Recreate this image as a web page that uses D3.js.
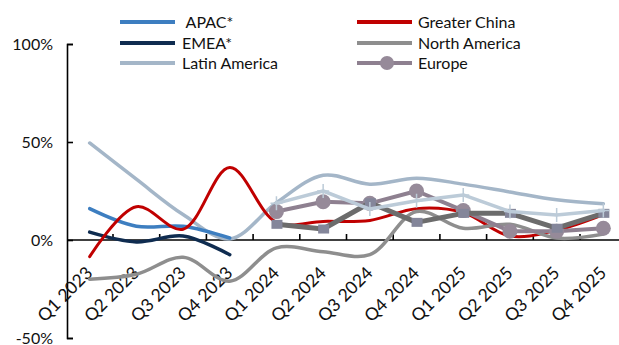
<!DOCTYPE html>
<html>
<head>
<meta charset="utf-8">
<script src="https://cdn.jsdelivr.net/npm/d3@7"></script>
<style>
  html, body { margin: 0; padding: 0; background: #fff; }
  svg { display: block; }
  text { font-family: Lato, "Open Sans", sans-serif; fill: #111; }
</style>
</head>
<body>
<svg id="chart" width="619" height="345"></svg>
<script>
// ---- data ----
const categories = ["Q1 2023","Q2 2023","Q3 2023","Q4 2023","Q1 2024","Q2 2024",
                    "Q3 2024","Q4 2024","Q1 2025","Q2 2025","Q3 2025","Q4 2025"];
const apac          = [16, 7, 7, 1, null, null, null, null, null, null, null, null];
const emea          = [4, -1, 2, -7.5, null, null, null, null, null, null, null, null];
const latinAmerica  = [49.5, 31, 13, 0.5, 19, 33, 28.5, 31.5, 28.5, 24.5, 20.5, 18.5];
const greaterChina  = [-8.5, 17, 5.5, 37, 9, 9.5, 10, 16, 14, 2, 5, 13];
const northAmerica  = [-20, -17.5, -8.8, -21, -4, -6, -7.5, 14.5, 6, 8, 1, 3];
const europe        = [null, null, null, null, 14.5, 19.5, 18.7, 25, 15, 4.5, 4.5, 6];
const squareSeries  = [null, null, null, null, 8, 5.6, 19, 9, 13.6, 13.6, 6, 13.6];
const plusSeries    = [null, null, null, null, 18.7, 25, 15.8, 20, 23, 14.5, 12.8, 15];
const yTicks = [-50, 0, 50, 100];
const legendItems = [
  { name: " APAC*", key: "apac" },
  { name: "EMEA*", key: "emea" },
  { name: "Latin America", key: "latam" },
  { name: "Greater China", key: "china" },
  { name: "North America", key: "na" },
  { name: "Europe", key: "europe" }
];

// ---- styles ----
const styles = {
  apac:   { color: "#3d7ec0", width: 3.5, smooth: true },
  emea:   { color: "#0f2c50", width: 3.5, smooth: true },
  latam:  { color: "#a4b6c8", width: 3.5, smooth: true },
  china:  { color: "#c00000", width: 3, smooth: true },
  na:     { color: "#8e8e8e", width: 3.5, smooth: true },
  europe: { color: "#8e8090", width: 4, smooth: false, marker: "circle", mcolor: "#968a99" },
  square: { color: "#6c6c6c", width: 5, smooth: false, marker: "square", mcolor: "#84869a" },
  plus:   { color: "#bccbd8", width: 3.5, smooth: false, marker: "plus", mcolor: "#bccbd8" }
};

const svg = d3.select("#chart");

const x = d3.scaleBand().domain(categories).range([66.3, 66.3 + 12 * 46.7]);
const y = d3.scaleLinear().domain([-50, 100]).range([338, 44]);
const cx = d => x(d) + x.bandwidth() / 2;

// ---- axes ----
const yAxis = d3.axisLeft(y).tickValues(yTicks).tickFormat(d => d + "%")
  .tickSize(-6).tickSizeOuter(-6).tickPadding(14);
const gy = svg.append("g").attr("transform", "translate(67,0)").call(yAxis);
gy.selectAll("path, line").attr("stroke", "#000").attr("stroke-width", 1.6);
gy.selectAll("text").attr("font-size", 16).attr("fill", "#111")
  .style("font-family", "Lato, sans-serif");

// zero line with boundary ticks
const gx = svg.append("g").attr("transform", `translate(0,${y(0)})`);
gx.append("line").attr("x1", 67).attr("x2", 619)
  .attr("stroke", "#000").attr("stroke-width", 1.6);
gx.selectAll("line.tick").data(categories.slice(1)).enter().append("line")
  .attr("class", "tick")
  .attr("x1", d => x(d)).attr("x2", d => x(d))
  .attr("y1", 0).attr("y2", -6)
  .attr("stroke", "#000").attr("stroke-width", 1.6);

// category labels
svg.append("g").selectAll("text").data(categories).enter().append("text")
  .attr("transform", d => `translate(${cx(d) + 4},274) rotate(-45)`)
  .attr("text-anchor", "end")
  .attr("font-size", 17.5)
  .text(d => d);

// ---- series ----
function drawSeries(values, key) {
  const s = styles[key];
  const pts = categories.map((c, i) => ({ c, v: values[i] }));
  const line = d3.line()
    .defined(p => p.v !== null)
    .x(p => cx(p.c)).y(p => y(p.v))
    .curve(s.smooth ? d3.curveCatmullRom.alpha(0.5) : d3.curveLinear);
  const g = svg.append("g");
  g.append("path").attr("d", line(pts)).attr("fill", "none")
    .attr("stroke", s.color).attr("stroke-width", s.width)
    .attr("stroke-linejoin", "round").attr("stroke-linecap", "round");
  const mp = pts.filter(p => p.v !== null);
  if (s.marker === "circle") {
    g.selectAll("circle").data(mp).enter().append("circle")
      .attr("cx", p => cx(p.c)).attr("cy", p => y(p.v)).attr("r", 7.5)
      .attr("fill", s.mcolor);
  } else if (s.marker === "square") {
    g.selectAll("rect").data(mp).enter().append("rect")
      .attr("x", p => cx(p.c) - 5).attr("y", p => y(p.v) - 4.5)
      .attr("width", 11).attr("height", 9).attr("fill", s.mcolor);
  } else if (s.marker === "plus") {
    g.selectAll("path.m").data(mp).enter().append("path").attr("class", "m")
      .attr("d", p => `M${cx(p.c) - 6},${y(p.v)}H${cx(p.c) + 6}M${cx(p.c)},${y(p.v) - 7}V${y(p.v) + 7}`)
      .attr("stroke", s.mcolor).attr("stroke-width", 1.5);
  }
}

drawSeries(latinAmerica, "latam");
drawSeries(apac, "apac");
drawSeries(emea, "emea");
drawSeries(greaterChina, "china");
drawSeries(northAmerica, "na");
drawSeries(europe, "europe");
drawSeries(squareSeries, "square");
drawSeries(plusSeries, "plus");

// ---- legend ----
const legendPos = [
  { lx: 120, tx: 182, ty: 22 }, { lx: 120, tx: 182, ty: 43 }, { lx: 120, tx: 182, ty: 63 },
  { lx: 357, tx: 418, ty: 22 }, { lx: 357, tx: 418, ty: 43 }, { lx: 357, tx: 418, ty: 63 }
];
const lg = svg.append("g");
legendItems.forEach((item, i) => {
  const p = legendPos[i], s = styles[item.key];
  lg.append("line").attr("x1", p.lx).attr("x2", p.lx + 55)
    .attr("y1", p.ty).attr("y2", p.ty)
    .attr("stroke", s.color).attr("stroke-width", 4);
  if (s.marker === "circle") {
    lg.append("circle").attr("cx", p.lx + 30).attr("cy", p.ty).attr("r", 7)
      .attr("fill", s.mcolor);
  }
  lg.append("text").attr("x", p.tx).attr("y", p.ty).attr("dy", "0.35em")
    .attr("font-size", 16).attr("xml:space", "preserve").style("white-space", "pre")
    .text(item.name);
});
</script>
</body>
</html>
